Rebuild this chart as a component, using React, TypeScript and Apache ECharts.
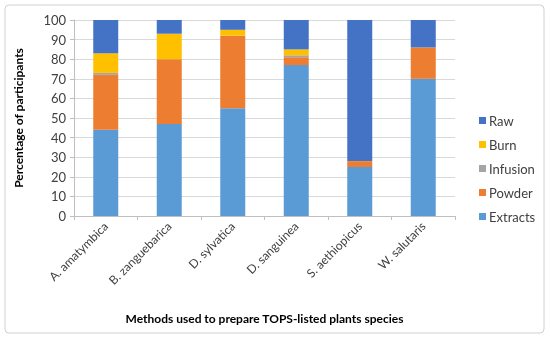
import React, { useEffect, useRef } from "react";
import * as echarts from "echarts";

const categories = ["A. amatymbica", "B. zanguebarica", "D. sylvatica", "D. sanguinea", "S. aethiopicus", "W. salutaris"];
const extracts = [44, 47, 55, 77, 25, 70];
const powder = [28, 33, 37, 4, 3, 16];
const infusion = [1, 0, 0, 1, 0, 0];
const burn = [10, 13, 3, 3, 0, 0];
const raw = [17, 7, 5, 15, 72, 14];
const yTicks = [0, 10, 20, 30, 40, 50, 60, 70, 80, 90, 100];

const FONT = "Lato, 'Open Sans', sans-serif";

export default function App() {
  const ref = useRef<HTMLDivElement>(null);
  useEffect(() => {
    if (!ref.current) return;
    const chart = echarts.init(ref.current, null, { renderer: "svg" });
    const mk = (name: string, data: number[], color: string) => ({
      name,
      type: "bar",
      stack: "total",
      data,
      barWidth: 25,
      itemStyle: { color },
      emphasis: { disabled: true },
    });
    chart.setOption({
      animation: false,
      textStyle: { fontFamily: FONT },
      graphic: [
        {
          type: "rect",
          shape: { x: 5, y: 5, width: 539, height: 328, r: 4 },
          style: { fill: "none", stroke: "#d0d0d0", lineWidth: 1 },
          silent: true,
        },
      ],
      grid: { left: 74, right: 95, top: 20, bottom: 123 },
      legend: {
        orient: "vertical",
        left: 474,
        top: 109,
        itemWidth: 7,
        itemHeight: 7,
        itemGap: 11,
        icon: "rect",
        data: ["Raw", "Burn", "Infusion", "Powder", "Extracts"],
        textStyle: { fontFamily: FONT, fontSize: 13, color: "#404040", padding: [0, 0, 0, -2] },
      },
      xAxis: {
        type: "category",
        data: categories,
        name: "Methods used to prepare TOPS-listed plants species",
        nameLocation: "middle",
        nameGap: 96,
        nameTextStyle: { fontFamily: FONT, fontSize: 12, fontWeight: "bold", color: "#000" },
        axisLine: { lineStyle: { color: "#bfbfbf" } },
        axisTick: { show: true, length: 4, lineStyle: { color: "#bfbfbf" } },
        axisLabel: { rotate: 45, fontSize: 12, color: "#404040", margin: 8, interval: 0, fontFamily: FONT },
      },
      yAxis: {
        type: "value",
        min: yTicks[0],
        max: yTicks[yTicks.length - 1],
        interval: 10,
        name: "Percentage of participants",
        nameLocation: "middle",
        nameGap: 50,
        nameTextStyle: { fontFamily: FONT, fontSize: 12, fontWeight: "bold", color: "#000" },
        axisLine: { show: true, lineStyle: { color: "#bfbfbf" } },
        axisTick: { show: true, length: 4, lineStyle: { color: "#bfbfbf" } },
        axisLabel: { fontSize: 13, color: "#404040", margin: 8, fontFamily: FONT },
        splitLine: { lineStyle: { color: "#d9d9d9" } },
      },
      series: [
        mk("Extracts", extracts, "#5B9BD5"),
        mk("Powder", powder, "#ED7D31"),
        mk("Infusion", infusion, "#A5A5A5"),
        mk("Burn", burn, "#FFC000"),
        mk("Raw", raw, "#4472C4"),
      ],
    });
    return () => chart.dispose();
  }, []);
  return <div ref={ref} style={{ position: "fixed", left: 0, top: 0, width: 550, height: 339 }} />;
}
